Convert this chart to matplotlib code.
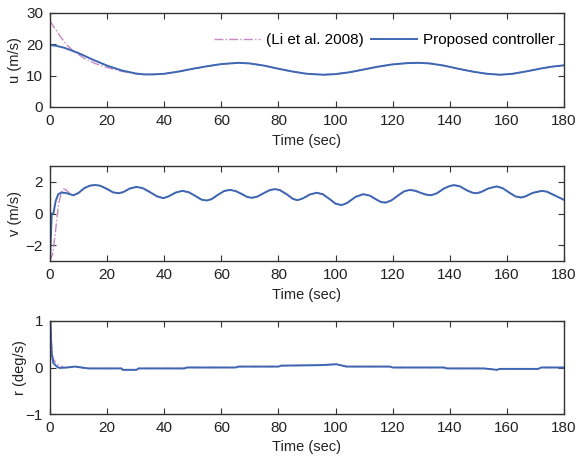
import matplotlib
matplotlib.use("Agg")
import matplotlib.pyplot as plt
import numpy as np

plt.rcParams['font.family'] = ['Liberation Sans', 'DejaVu Sans']

# ---- data ----
u_prop_t = [0, 0.05, 2.3, 5, 10, 15, 20, 25, 30, 33, 36, 40, 45, 50, 55, 60, 66, 70, 75, 80, 85, 90,
            95.7, 100, 105, 110, 115, 120, 125, 129, 133, 138, 143, 148, 153, 157.6, 162, 167, 172, 176, 180]
u_prop = [0, 19.8, 19.5, 18.9, 17.2, 15.1, 13.2, 11.7, 10.7, 10.4, 10.4, 10.6, 11.3, 12.2, 13.0, 13.7,
          14.1, 13.9, 13.2, 12.2, 11.3, 10.6, 10.3, 10.5, 11.1, 12.0, 12.9, 13.6, 14.0, 14.1, 13.9, 13.2,
          12.2, 11.3, 10.6, 10.3, 10.6, 11.4, 12.3, 12.9, 13.3]
u_li_t = [0, 1, 2, 4, 6, 8, 12, 16, 20, 25, 30]
u_li = [27.5, 26.0, 24.7, 22.0, 19.7, 18.0, 15.5, 13.8, 12.6, 11.4, 10.6]

v_prop_t = [0, 0.3, 0.6, 1.2, 2.0, 2.9, 4.0, 5.5, 8.2, 10, 12, 14, 15.8, 17.5, 20, 22, 23.9, 25.5, 28,
            30.3, 32.5, 35, 37.5, 39.7, 41.5, 44, 46.3, 48.5, 51, 53, 54.9, 56.5, 59, 61, 63, 65, 67.5,
            69, 70.6, 72.5, 75, 77, 78.8, 80.5, 83, 85, 86.6, 88.5, 91, 93.4, 95.5, 98, 100, 102.1, 104,
            107, 109.7, 112, 114.5, 116, 117.5, 119.5, 122, 124, 126, 128, 130.5, 132, 133.6, 135.5, 138,
            140, 141.6, 143.5, 146, 148, 149.4, 151, 153.5, 156.4, 158.5, 161, 163, 164.9, 166.5, 169,
            172.2, 174, 177, 180]
v_prop = [-3.0, -1.5, 0.0, 0.0, 0.8, 1.22, 1.32, 1.3, 1.15, 1.3, 1.6, 1.76, 1.8, 1.76, 1.55, 1.34, 1.28,
          1.34, 1.58, 1.68, 1.6, 1.35, 1.08, 0.97, 1.08, 1.32, 1.43, 1.35, 1.1, 0.88, 0.82, 0.9, 1.2,
          1.42, 1.49, 1.42, 1.2, 1.05, 0.99, 1.06, 1.3, 1.48, 1.54, 1.48, 1.2, 0.93, 0.84, 0.95, 1.2,
          1.31, 1.22, 0.9, 0.62, 0.53, 0.66, 1.05, 1.22, 1.13, 0.86, 0.72, 0.69, 0.82, 1.15, 1.4, 1.49,
          1.43, 1.26, 1.18, 1.16, 1.28, 1.58, 1.74, 1.79, 1.72, 1.46, 1.31, 1.28, 1.36, 1.58, 1.71, 1.6,
          1.3, 1.08, 1.01, 1.08, 1.3, 1.43, 1.38, 1.12, 0.86]
v_li_t = [0, 1, 2, 3, 4, 4.7, 5.5, 7, 8.2]
v_li = [-3.0, -2.5, -1.0, 0.6, 1.35, 1.55, 1.5, 1.25, 1.15]

r_prop_t = [0, 0.1, 0.6, 1.2, 2.4, 3.3, 6, 8.8, 11, 13.5, 25, 25.5, 30.3, 31, 47, 48, 59.5, 65, 66, 80,
            81, 94.5, 100.3, 103.8, 119, 120, 138, 139, 152, 156.5, 157.5, 171, 172, 180]
r_prop = [0, 0.98, 0.3, 0.09, 0.02, -0.01, 0.0, 0.02, 0.0, -0.02, -0.02, -0.05, -0.05, -0.02, -0.02, 0.0,
          0.0, 0.0, 0.02, 0.02, 0.04, 0.05, 0.07, 0.02, 0.02, 0.0, 0.0, -0.02, -0.02, -0.05, -0.03, -0.03,
          0.0, 0.0]
r_li_t = [0, 0.5, 1, 2, 3, 5]
r_li = [0.9, 0.5, 0.2, 0.1, 0.05, 0.0]

xticks = [0, 20, 40, 60, 80, 100, 120, 140, 160, 180]

# ---- styling ----
blue = '#3d66b3'
pink = '#c987c4'
spine_col = '#333333'

fig = plt.figure(figsize=(5.79, 4.62), dpi=100)
W, H = 579, 462
def rect(l, t, r, b):
    return [l / W, 1 - b / H, (r - l) / W, (b - t) / H]

ax1 = fig.add_axes(rect(50, 13, 564, 107))
ax2 = fig.add_axes(rect(50, 166, 564, 261))
ax3 = fig.add_axes(rect(50, 321, 564, 414))

def li_full(t_li, y_li, t_p, y_p):
    t_end = t_li[-1]
    tt = list(t_li) + [t for t in t_p if t > t_end]
    yy = list(y_li) + [y for t, y in zip(t_p, y_p) if t > t_end]
    return tt, yy

t, y = li_full(u_li_t, u_li, u_prop_t, u_prop)
ax1.plot(t, y, color=pink, lw=1.0, ls='-.', label='(Li et al. 2008)')
ax1.plot(u_prop_t, u_prop, color=blue, lw=1.4, label='Proposed controller')
t, y = li_full(v_li_t, v_li, v_prop_t, v_prop)
ax2.plot(t, y, color=pink, lw=1.0, ls='-.')
ax2.plot(v_prop_t, v_prop, color=blue, lw=1.4)
t, y = li_full(r_li_t, r_li, r_prop_t, r_prop)
ax3.plot(t, y, color=pink, lw=1.0, ls='-.')
ax3.plot(r_prop_t, r_prop, color=blue, lw=1.4)

ax1.set_ylim(0, 30); ax1.set_yticks([0, 10, 20, 30]); ax1.set_ylabel('u (m/s)', fontsize=10.5)
ax2.set_ylim(-3, 3); ax2.set_yticks([-2, 0, 2]); ax2.set_ylabel('v (m/s)', fontsize=10.5)
ax3.set_ylim(-1, 1); ax3.set_yticks([-1, 0, 1]); ax3.set_ylabel('r (deg/s)', fontsize=10.5)
ax1.yaxis.set_label_coords(-0.054, 0.5)
ax2.yaxis.set_label_coords(-0.054, 0.5)
ax3.yaxis.set_label_coords(-0.045, 0.5)

for ax in (ax1, ax2, ax3):
    ax.set_xlim(0, 180)
    ax.set_xticks(xticks)
    ax.set_xlabel('Time (sec)', fontsize=10.5, labelpad=4)
    ax.tick_params(direction='in', top=True, right=True, length=4, width=0.8,
                   labelsize=11, color=spine_col, labelcolor='#222222', pad=5)
    for s in ax.spines.values():
        s.set_color(spine_col)
        s.set_linewidth(1.0)
    ax.xaxis.label.set_color('#222222')
    ax.yaxis.label.set_color('#222222')

leg = ax1.legend(loc='center right', bbox_to_anchor=(1.0, 0.71), ncol=2, frameon=False, fontsize=11,
                 handlelength=3.0, columnspacing=0.5, borderaxespad=0.2, handletextpad=0.4)

fig.savefig('out.png', dpi=100)
